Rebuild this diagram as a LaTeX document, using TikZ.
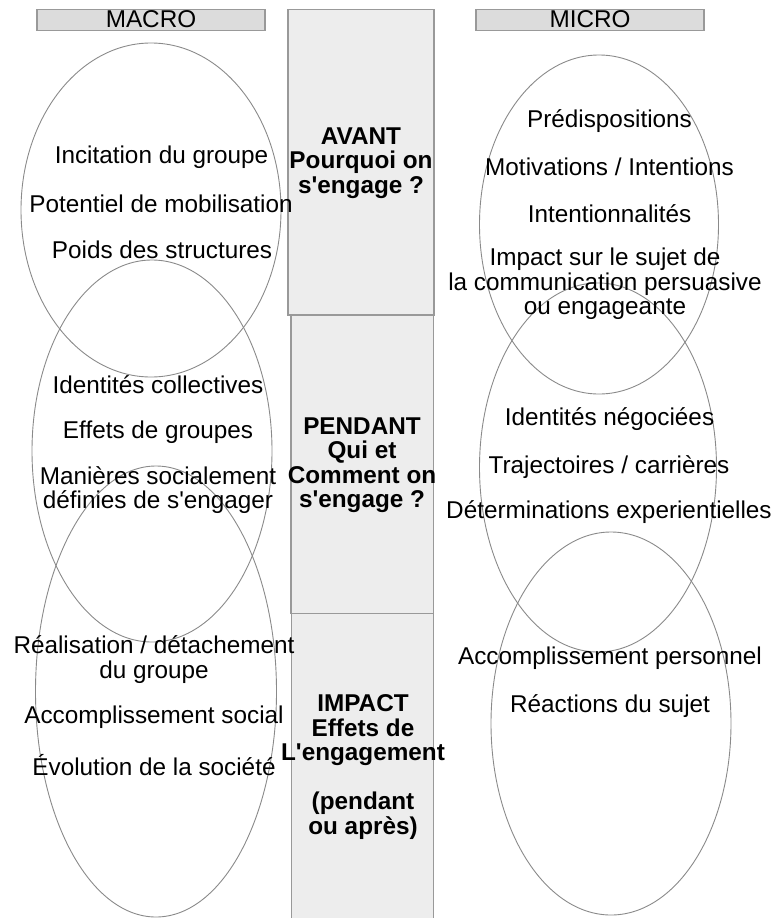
\documentclass[tikz,border=0pt]{standalone}
\usepackage{fontspec}
\setmainfont{Liberation Sans}[Ligatures=TeXOff]
\usetikzlibrary{shapes.geometric}
\definecolor{linegray}{HTML}{8A8A8A}
\definecolor{boxgray}{HTML}{999999}
\definecolor{headfill}{HTML}{DCDCDC}
\definecolor{colfill}{HTML}{EDEDED}
\tikzset{
  oval/.style={ellipse, draw=linegray, line width=0.9pt, inner sep=0pt},
  headbox/.style={draw=boxgray, fill=headfill, line width=1.3pt},
  colbox/.style={draw=boxgray, fill=colfill, line width=1.3pt},
  lbl/.style={inner sep=0pt, align=center, font=\fontsize{24.3}{24.5}\selectfont},
  blbl/.style={lbl, font=\fontsize{24.3}{24.5}\selectfont\bfseries},
}
\begin{document}
\begin{tikzpicture}[x=1pt,y=-1pt]
\useasboundingbox (0,0) rectangle (772,918);
\begin{scope}
\clip (0,0) rectangle (772,918);
% header boxes
\draw[headbox] (37,9.5) rectangle (265,30.5);
\draw[headbox] (476,9.5) rectangle (704,30.5);
\node[lbl] (macro) at (151,19.5) {MACRO};
\node[lbl] (micro) at (590,19.5) {MICRO};
% middle column
\draw[colbox] (288,9.5) rectangle (434,315);
\draw[colbox] (291,315) rectangle (433.5,613.5);
\draw[colbox] (291.5,613.5) rectangle (433.5,930);
% ellipses left
\node[oval, minimum width=260pt, minimum height=334pt] (L1) at (151,210) {};
\node[oval, minimum width=240pt, minimum height=382pt] (L2) at (152,451) {};
\node[oval, minimum width=241pt, minimum height=451pt] (L3) at (156,691.5) {};
% ellipses right
\node[oval, minimum width=239pt, minimum height=339pt] (R1) at (599,224.5) {};
\node[oval, minimum width=237pt, minimum height=369pt] (R2) at (598,467.5) {};
\node[oval, minimum width=240pt, minimum height=383pt] (R3) at (611,723.5) {};
% left texts
\node[lbl] (t1) at (161.5,157) {Incitation du groupe};
\node[lbl] (t2) at (161,204) {Potentiel de mobilisation};
\node[lbl] (t3) at (162,250) {Poids des structures};
\node[lbl] (t4) at (158,385) {Identités collectives};
\node[lbl] (t5) at (158,432) {Effets de groupes};
\node[lbl] (t6) at (158,490) {Manières socialement\\définies de s'engager};
\node[lbl] (t7) at (154,659.5) {Réalisation / détachement\\du groupe};
\node[lbl] (t8) at (154,717) {Accomplissement social};
\node[lbl] (t9) at (154,765) {Évolution de la société};
% middle texts
\node[blbl] (m1) at (361,163) {AVANT\\Pourquoi on\\s'engage ?};
\node[blbl] (m2) at (362,465) {PENDANT\\Qui et\\Comment on\\s'engage ?};
\node[blbl] (m3) at (363,767) {IMPACT\\Effets de\\L'engagement\\[24.5pt](pendant\\ou après)};
% right texts
\node[lbl] (r1) at (609.5,121) {Prédispositions};
\node[lbl] (r2) at (609.5,167) {Motivations / Intentions};
\node[lbl] (r3) at (609.5,214) {Intentionnalités};
\node[lbl] (r4) at (605,284) {Impact sur le sujet de\\la communication persuasive\\ou engageante};
\node[lbl] (r5) at (609.5,419) {Identités négociées};
\node[lbl] (r6) at (609,467) {Trajectoires / carrières};
\node[lbl, anchor=west] (r7) at (446,512) {Déterminations experientielles};
\node[lbl] (r8) at (610,658) {Accomplissement personnel};
\node[lbl] (r9) at (610,706) {Réactions du sujet};
\end{scope}
\end{tikzpicture}
\end{document}
